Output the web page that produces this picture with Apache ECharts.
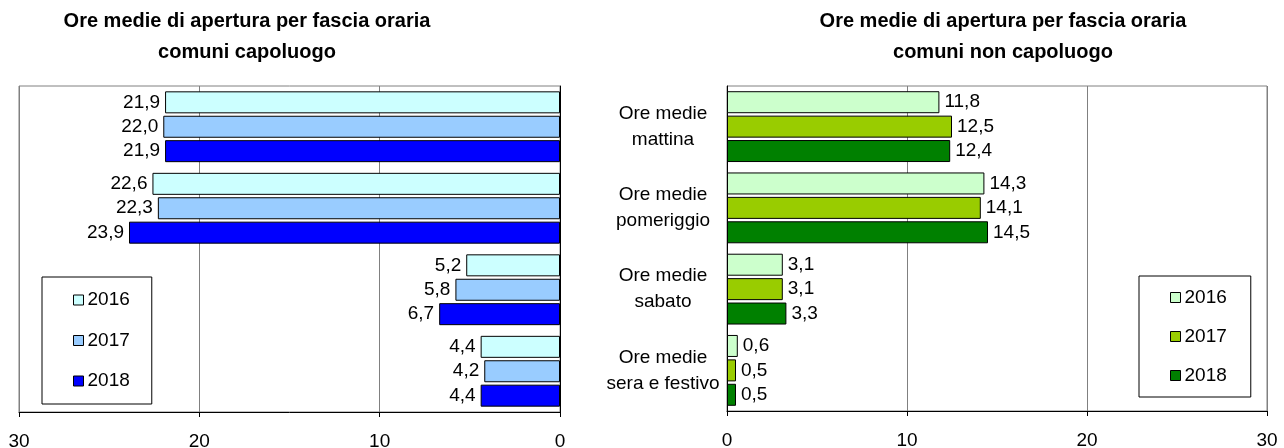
<!DOCTYPE html>
<html>
<head>
<meta charset="utf-8">
<script src="https://cdn.jsdelivr.net/npm/echarts@6/dist/echarts.min.js"></script>
<style>
html,body{margin:0;padding:0;background:#fff;}
#c{width:1284px;height:448px;}
</style>
</head>
<body>
<div id="c"></div>
<script>
var categories = ['Ore medie\nmattina', 'Ore medie\npomeriggio', 'Ore medie\nsabato', 'Ore medie\nsera e festivo'];
var years = ['2016', '2017', '2018'];
var capo2016 = [21.9, 22.6, 5.2, 4.4];
var capo2017 = [22.0, 22.3, 5.8, 4.2];
var capo2018 = [21.9, 23.9, 6.7, 4.4];
var non2016 = [11.8, 14.3, 3.1, 0.6];
var non2017 = [12.5, 14.1, 3.1, 0.5];
var non2018 = [12.4, 14.5, 3.3, 0.5];
var xTicks = [0, 10, 20, 30];
var titleLeft = 'Ore medie di apertura per fascia oraria\ncomuni capoluogo';
var titleRight = 'Ore medie di apertura per fascia oraria\ncomuni non capoluogo';

var capoColors = ['#CCFFFF', '#99CCFF', '#0000FF'];
var nonColors = ['#CCFFCC', '#99CC00', '#008000'];
var FONT = 'Liberation Sans, Arial, sans-serif';
var FS = 19;

function fmt(v) { return v.toFixed(1).replace('.', ','); }

var chart = echarts.init(document.getElementById('c'), null, {renderer: 'canvas'});

function mkSeries(prefix, datas, colors, gi, labelPos) {
  return datas.map(function (d, i) {
    return {
      type: 'bar',
      name: prefix + years[i],
      xAxisIndex: gi,
      yAxisIndex: gi,
      data: d,
      barWidth: 22,
      barGap: '11%',
      itemStyle: {color: colors[i], borderColor: '#000', borderWidth: 1},
      label: {
        show: true,
        position: labelPos,
        distance: 5,
        color: '#000',
        fontSize: FS,
        fontFamily: FONT,
        formatter: function (p) { return fmt(p.value); }
      },
      animation: false
    };
  });
}

var xAxisCommon = {
  type: 'value', min: 0, max: 30, interval: 10,
  axisLine: {show: true, lineStyle: {color: '#000', width: 1}},
  axisTick: {show: true, length: 5, lineStyle: {color: '#000'}},
  axisLabel: {color: '#000', fontSize: FS, fontFamily: FONT, margin: 20,
    formatter: function (v) { return xTicks.indexOf(v) >= 0 ? String(v) : ''; }},
  splitLine: {show: true, lineStyle: {color: '#808080', width: 1}}
};

var legendText = {fontSize: FS, fontFamily: FONT, color: '#000', lineHeight: 19, padding: [0, 0, 0, -1]};

var option = {
  backgroundColor: '#fff',
  animation: false,
  graphic: [
    {type: 'text', x: 247, y: 6, style: {text: titleLeft, textAlign: 'center', font: 'bold 20px ' + FONT, lineHeight: 31, fill: '#000'}},
    {type: 'text', x: 1003, y: 6, style: {text: titleRight, textAlign: 'center', font: 'bold 20px ' + FONT, lineHeight: 31, fill: '#000'}}
  ],
  grid: [
    {left: 19, right: 724, top: 86, bottom: 36, show: true, borderColor: '#808080', borderWidth: 1, containLabel: false, outerBoundsMode: 'none'},
    {left: 727, right: 17, top: 86, bottom: 37, show: true, borderColor: '#808080', borderWidth: 1, containLabel: false, outerBoundsMode: 'none'}
  ],
  legend: [
    {
      data: years.map(function (y) { return 'c' + y; }),
      orient: 'vertical', left: 42, top: 277,
      itemWidth: 10, itemHeight: 10, itemGap: 21.5,
      padding: [13.5, 22, 13.5, 31],
      borderColor: '#000', borderWidth: 1,
      icon: 'rect',
      itemStyle: {borderColor: '#000', borderWidth: 1},
      textStyle: legendText,
      formatter: function (n) { return n.slice(1); },
      selectedMode: false
    },
    {
      data: years.map(function (y) { return 'n' + y; }),
      orient: 'vertical', left: 1139, top: 276,
      itemWidth: 10, itemHeight: 10, itemGap: 20,
      padding: [12, 24, 12, 31],
      borderColor: '#000', borderWidth: 1,
      icon: 'rect',
      itemStyle: {borderColor: '#000', borderWidth: 1},
      textStyle: legendText,
      formatter: function (n) { return n.slice(1); },
      selectedMode: false
    }
  ],
  xAxis: [
    Object.assign({}, xAxisCommon, {gridIndex: 0, inverse: true}),
    Object.assign({}, xAxisCommon, {gridIndex: 1})
  ],
  yAxis: [
    {
      type: 'category', gridIndex: 0, data: categories, inverse: true, position: 'right',
      axisLine: {show: true, lineStyle: {color: '#000'}},
      axisTick: {show: false},
      axisLabel: {show: false}
    },
    {
      type: 'category', gridIndex: 1, data: categories, inverse: true, position: 'left',
      axisLine: {show: true, lineStyle: {color: '#000'}},
      axisTick: {show: false},
      axisLabel: {show: true, color: '#000', fontSize: FS, fontFamily: FONT, lineHeight: 26, align: 'center', margin: 64}
    }
  ],
  series: mkSeries('c', [capo2016, capo2017, capo2018], capoColors, 0, 'left')
    .concat(mkSeries('n', [non2016, non2017, non2018], nonColors, 1, 'right'))
};
chart.setOption(option);
</script>
</body>
</html>
